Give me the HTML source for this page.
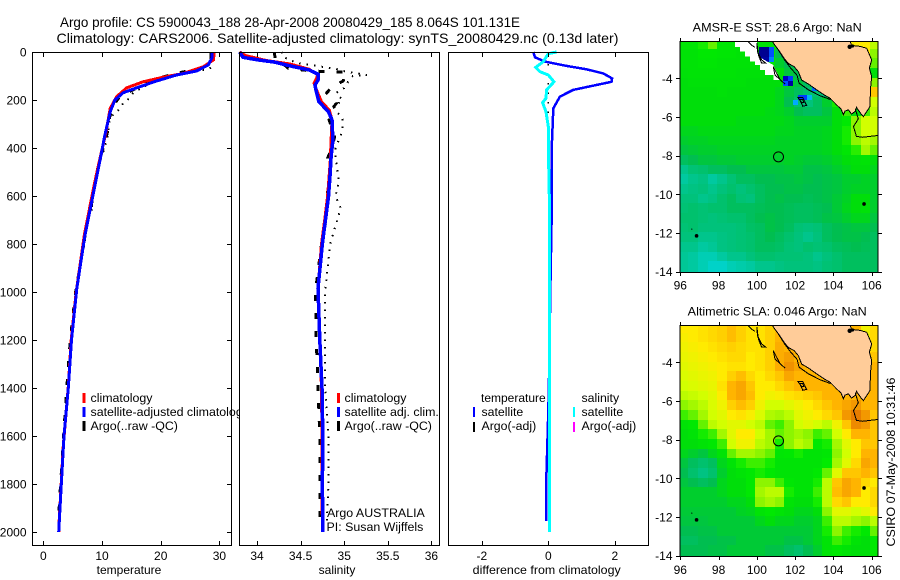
<!DOCTYPE html>
<html lang="en">
<head>
<meta charset="utf-8">
<title>Argo profile</title>
<style>
html,body{margin:0;padding:0;background:#fff;}
svg{display:block;font-family:"Liberation Sans",sans-serif;font-size:12px;fill:#000;}
text{fill:#000;}
</style>
</head>
<body>
<svg id="fig" width="900" height="580" viewBox="0 0 900 580" xmlns="http://www.w3.org/2000/svg">
  <defs>
    <clipPath id="clip-map1"><rect x="680" y="41" width="198" height="232"/></clipPath>
    <clipPath id="clip-map2"><rect x="680" y="325" width="198" height="232"/></clipPath>
    <clipPath id="clip-p1-legend"><rect x="32" y="52" width="207" height="493"/></clipPath>
  </defs>
  <rect x="0" y="0" width="900" height="580" fill="#fff"/>
  <text x="60" y="27" font-size="14" textLength="460" lengthAdjust="spacingAndGlyphs">Argo profile: CS 5900043_188 28-Apr-2008 20080429_185 8.064S 101.131E</text>
  <text x="56.5" y="43" font-size="14" textLength="562" lengthAdjust="spacingAndGlyphs">Climatology: CARS2006. Satellite-adjusted climatology: synTS_20080429.nc (0.13d later)</text>

  <g id="p1"></g>
  <g id="p1legend" clip-path="url(#clip-p1-legend)" font-size="12.4">
    <rect x="82.5" y="393" width="3" height="10" fill="#f00"/>
    <rect x="82.5" y="407" width="3" height="10" fill="#00f"/>
    <rect x="82.5" y="421" width="3" height="10" fill="#000"/>
    <text x="90.5" y="402">climatology</text>
    <text x="90.5" y="416">satellite-adjusted climatology</text>
    <text x="90.5" y="430">Argo(..raw -QC)</text>
  </g>

  <g id="p2"></g>
  <g font-size="12.4">
    <rect x="337" y="393" width="3" height="10" fill="#f00"/>
    <rect x="337" y="407" width="3" height="10" fill="#00f"/>
    <rect x="337" y="421" width="3" height="10" fill="#000"/>
    <text x="344.5" y="402">climatology</text>
    <text x="344.5" y="416">satellite adj. clim.</text>
    <text x="344.5" y="430">Argo(..raw -QC)</text>
    <text x="327" y="517">Argo AUSTRALIA</text>
    <text x="326.5" y="531">PI: Susan Wijffels</text>
  </g>

  <g id="p3"></g>
  <g>
    <text x="481" y="402">temperature</text>
    <rect x="473" y="407" width="2" height="10" fill="#00f"/>
    <text x="481.5" y="416" font-size="12.3">satellite</text>
    <rect x="473" y="422" width="2" height="10" fill="#000"/>
    <text x="481.5" y="430" font-size="12.3">Argo(-adj)</text>
    <text x="581.5" y="402" font-size="12.3">salinity</text>
    <rect x="573" y="407" width="2" height="10" fill="#0ff"/>
    <text x="581.5" y="416" font-size="12.3">satellite</text>
    <rect x="573" y="422" width="2" height="10" fill="#f0f"/>
    <text x="581.5" y="430" font-size="12.3">Argo(-adj)</text>
  </g>

  <g id="m1"></g>
  <g id="m2"></g>
  <text x="692.7" y="31.5" textLength="169" lengthAdjust="spacingAndGlyphs">AMSR-E SST: 28.6 Argo: NaN</text>
  <text x="687.7" y="315.5" textLength="179" lengthAdjust="spacingAndGlyphs">Altimetric SLA: 0.046 Argo: NaN</text>
  <text transform="translate(895,546.5) rotate(-90)" textLength="169" lengthAdjust="spacingAndGlyphs">CSIRO 07-May-2008 10:31:46</text>
</svg>

<script>
// ---------- profile data ----------
const depthTicks = [0,200,400,600,800,1000,1200,1400,1600,1800,2000];
const tempTicks = [0,10,20,30];
const salTicks = [34,34.5,35,35.5,36];
const salTickLabels = ['34','34.5','35','35.5','36'];
const diffTicks = [-2,0,2];
const lonTicks = [96,98,100,102,104,106];
const latTicks = [-4,-6,-8,-10,-12,-14];

const climTDepth = [0,6,33,61,89,105,124,149,186,235,332,471,550,760,1000,1200,1400,1640,1960,2000];
const climT = [29.1,29.1,29.0,27.3,23.9,20.4,17,14.2,12.5,11.4,10.7,9.4,8.7,7.0,5.6,4.75,4.25,3.4,2.7,2.65];
const satTDepth = [0,26,54,79,96,121,149,170,200,249,346,483,554,762,985,1200,1400,1600,1800,2000];
const satT = [28.7,28.7,28.1,26.1,22.7,19.3,15.9,13.6,12.2,11.4,10.5,9.4,8.8,7.1,5.7,4.8,4.26,3.53,3.07,2.62];
const argoTDepth = [5,30,57,70,80,90,105,125,145,170,190,214,242,255,290,325,358,408,470,540,600,660,700,800,1000,1200,1400,1600,1800,1960];
const argoQcT = [28.6,28.6,28.0,26.6,24.4,22.6,20.2,18.0,16.4,14.2,12.9,12.2,11.7,11.5,11.1,11.0,10.7,10.1,9.4,8.8,8.4,8.1,7.5,6.9,5.5,4.6,4.0,3.45,2.95,2.55];
const argoRawT = [28.8,28.7,28.8,28.3,26,24,21,19,17,15.3,14.8,13.6,12.8,12,11.3,11.1,10.9,10.3,9.5,8.9,8.5,8.2,7.6,7.0,5.5,4.7,4.1,3.5,3.0,2.6];

const climSDepth = [0,15,35,50,72,96,130,165,207,243,283,367,460,600,690,800,985,1200,1400,1600,1800,2000];
const climS = [33.8,33.87,34.1,34.38,34.6,34.7,34.655,34.69,34.74,34.83,34.86,34.85,34.84,34.81,34.78,34.74,34.7,34.72,34.74,34.745,34.745,34.75];
const satSDepth = [0,22,33,42,58,75,93,117,138,165,207,249,283,367,436,505,603,686,798,985,1200,1400,1600,1800,2000];
const satS = [33.8,33.84,34.01,34.2,34.38,34.6,34.7,34.7,34.665,34.68,34.71,34.82,34.86,34.87,34.85,34.84,34.82,34.79,34.75,34.7,34.72,34.745,34.755,34.75,34.755];
const argoQcSDepth = [0,35,50,68,78,82,85,100,120,150,170,213,245,275,354,400,442,470,520,603,660,686,800,1000,1200,1400,1600,1800,1960];
const argoQcS = [34.2,34.21,34.3,34.36,34.6,34.8,35.03,35.0,34.99,34.85,34.8,34.91,34.85,34.82,34.89,34.86,34.81,34.83,34.84,34.8,34.8,34.8,34.74,34.67,34.68,34.7,34.72,34.72,34.72];
const argoRawSDepth = [0,20,45,70,80,96,100,120,150,170,200,230,280,330,400,440,540,600,650,800,1000,1200,1400,1600,1800,1960];
const argoRawS = [34.28,34.3,34.45,34.9,35.0,35.26,35.1,35.05,35.0,34.91,34.98,34.88,34.98,34.98,34.9,34.9,34.94,34.9,34.96,34.84,34.78,34.78,34.78,34.82,34.82,34.8];

const diffTDepth = [0,22,40,58,72,89,110,124,137,158,186,235,311,408,700,1000,1300,1500,1780,1955];
const diffT = [-0.45,-0.4,-0.1,0.55,1.15,1.65,1.92,1.9,1.46,0.75,0.35,0.15,0.13,0.1,0.1,0.06,0.03,0.0,-0.06,-0.06];
const diffSDepth = [0,7,40,64,82,96,124,158,193,211,249,311,394,600,1000,1500,2000];
const diffS = [0.25,0,-0.15,-0.38,-0.25,0,0.17,-0.05,-0.07,-0.17,-0.07,0,0,0.03,0.03,0.03,0.03];
const diffArgoDepth = [50,100,200,300,400];
const diffArgo = [0,0,0,0,0];

// ---------- map data (colour level 0-100 per 0.5 degree cell, north to south) ----------
const sstGrid = [
[63,63,66,70,63,63,62,62,62,62,60,60,60,60,60,60,60,60,84,84,76],
[62,62,64,64,63,63,62,62,62,62,52,45,60,60,60,60,60,60,60,84,72],
[62,62,63,63,62,62,62,62,62,62,56,52,48,60,60,60,60,60,60,76,70],
[61,62,62,62,62,62,61,61,61,61,61,54,52,50,60,60,60,60,60,60,60],
[60,61,61,61,61,61,61,60,60,60,60,58,54,50,50,60,60,60,60,60,72],
[60,60,60,60,61,60,60,60,60,60,58,54,50,48,48,46,60,60,60,60,88],
[60,60,60,60,60,60,60,60,60,60,58,52,48,46,50,56,66,60,60,60,78],
[60,60,60,60,60,60,60,60,60,59,58,56,52,50,50,54,60,68,60,68,76],
[60,60,60,60,60,60,59,59,59,59,59,58,56,56,56,56,60,64,72,78,78],
[58,58,59,59,59,59,59,59,59,59,58,58,57,57,57,58,60,66,72,78,78],
[56,57,57,58,58,58,58,58,58,58,57,57,57,57,57,58,60,66,72,76,74],
[54,55,56,56,57,57,57,57,57,57,57,57,57,57,57,58,60,63,67,74,70],
[50,52,54,54,55,55,56,56,56,56,56,57,56,55,55,56,58,60,61,62,60],
[44,47,48,50,50,52,52,54,54,54,54,55,55,53,53,54,56,58,60,60,58],
[42,44,45,42,44,47,50,50,52,52,53,53,54,53,52,53,54,56,56,57,56],
[44,45,46,44,46,48,46,48,50,52,52,53,53,52,52,53,54,56,57,57,56],
[46,46,44,45,48,50,47,46,50,52,53,52,52,51,52,53,55,57,60,60,56],
[47,48,47,48,48,50,50,50,51,52,52,51,50,50,51,52,55,58,60,61,56],
[48,48,47,46,47,48,48,50,52,53,52,51,50,50,51,53,54,56,58,58,54],
[47,48,46,46,46,46,47,49,50,53,52,50,47,46,47,50,52,53,54,54,52],
[46,46,44,44,45,46,47,48,50,52,50,48,46,44,46,50,52,53,53,52,50],
[44,44,42,43,45,46,47,48,50,50,49,47,46,48,47,48,50,51,52,51,50],
[43,42,40,40,42,44,44,46,48,48,47,47,47,46,44,46,48,50,50,50,50],
[43,42,40,38,38,40,41,42,44,44,45,46,46,46,45,47,48,50,50,50,50]
];
const slaGrid = [
[84,84,85,86,87,89,87,85,85,87,90,90,90,90,90,90,90,90,90,82,86],
[83,84,85,86,87,89,87,85,85,87,90,90,90,90,90,90,90,90,90,82,86],
[82,83,84,85,86,87,86,85,85,87,91,90,90,90,90,90,90,90,90,90,86],
[81,82,83,84,85,86,86,84,85,87,91,93,90,90,90,90,90,90,90,90,88],
[80,81,82,83,84,85,85,84,85,87,91,95,92,90,90,90,90,90,90,90,90],
[79,80,81,82,84,87,89,86,84,86,88,92,90,90,90,90,90,90,90,90,90],
[78,79,80,81,85,90,92,88,84,84,86,88,90,90,90,90,90,90,90,90,90],
[76,77,78,80,84,90,92,89,84,82,83,85,86,87,88,90,90,90,90,90,90],
[72,74,76,79,82,87,89,87,82,78,78,80,82,84,86,88,90,92,94,90,90],
[68,70,74,78,80,84,85,83,79,75,74,76,80,82,84,86,88,94,98,94,88],
[62,64,70,76,78,80,80,78,76,70,68,72,78,80,78,76,82,88,96,94,88],
[60,62,66,68,74,80,84,84,78,74,70,72,74,72,68,70,78,84,90,90,88],
[60,60,62,64,68,78,82,82,76,74,66,72,76,74,64,66,74,80,84,88,88],
[58,56,54,58,62,70,74,74,72,70,63,64,66,62,62,63,72,78,84,90,90],
[54,50,48,50,58,62,66,68,68,66,62,62,62,62,62,65,74,80,86,92,90],
[52,48,45,48,56,60,62,64,66,64,62,62,62,62,64,70,80,88,88,90,88],
[54,52,50,52,58,60,60,64,72,72,68,63,62,62,66,76,88,92,90,86,84],
[56,56,56,56,58,60,60,64,74,76,76,66,62,62,68,76,89,92,90,84,86],
[56,56,56,56,56,58,58,60,72,74,72,62,60,60,66,76,86,88,84,84,86],
[55,55,55,55,55,55,57,58,62,64,62,60,58,58,60,72,80,80,78,80,84],
[54,54,54,55,55,55,55,55,58,60,58,58,56,56,58,68,76,76,74,72,76],
[52,52,53,53,55,55,55,55,55,55,55,55,55,55,58,66,72,68,66,64,70],
[50,50,52,52,53,53,55,55,55,55,55,53,53,55,58,62,68,66,62,60,64],
[52,52,52,53,53,55,55,55,55,53,53,50,48,52,56,62,64,62,60,60,64]
];
// fine 0.25 degree anomalies in the SST field: lon, lat, level
const sstFineLon = [100.125,100.375,100.125,100.375,100.125,100.375,100.625,100.625,100.625,101.375,101.625,101.375,101.625,102.125,102.375,102.625,101.875,102.875];
const sstFineLat = [-2.375,-2.375,-2.625,-2.625,-2.875,-2.875,-2.375,-2.625,-2.875,-3.875,-3.875,-4.125,-4.125,-4.875,-4.875,-4.875,-5.125,-4.375];
const sstFineLevel = [2,2,2,2,4,4,22,22,26,8,20,22,4,20,20,32,30,24];
// missing-data region of the SST map
const maskLon = [98.86,99.99,100.1,100.86,101.12,101.25,100.86,100.86,100.42,100.42,100.16,100.16,99.9,99.9,99.64,99.64,99.38,99.38,99.12,99.12,98.86];
const maskLat = [-2.07,-2.07,-2.88,-3.31,-3.83,-4.09,-4.09,-3.83,-3.83,-3.57,-3.57,-3.31,-3.31,-3.14,-3.14,-2.88,-2.88,-2.62,-2.62,-2.37,-2.37];
// coastline
const landLon = [100.8,100.95,101.2,101.45,101.64,101.95,102.17,102.34,102.7,103.13,103.5,103.82,104.17,104.4,104.52,104.6,104.78,104.95,105.15,105.2,105.45,105.56,105.82,105.9,105.95,106.0,105.88,106.0,105.74,105.4,104.95,104.87];
const landLat = [-2.07,-2.3,-2.63,-3.0,-3.23,-3.4,-3.66,-4.09,-4.3,-4.6,-4.85,-5.03,-5.38,-5.6,-5.89,-5.7,-5.63,-5.85,-5.7,-5.5,-5.85,-5.98,-5.6,-5.47,-4.43,-3.92,-3.47,-3.05,-2.45,-2.35,-2.3,-2.07];
const shelfLon = [101.1,101.45,101.75,102.1,102.2,102.7,103.3,103.85];
const shelfLat = [-2.5,-3.05,-3.45,-3.85,-4.25,-4.6,-4.9,-5.1];
const javaLon = [105.15,105.3,105.05,105.2,105.5,106.4];
const javaLat = [-5.6,-6.1,-6.5,-7.0,-7.05,-6.95];
const siberutLon = [99.5,99.75,99.9];
const siberutLat = [-2.07,-2.3,-2.4];
const siporaLon = [100,100.03,100.25,100.48,100.25,100.08,100];
const siporaLat = [-2.17,-2.62,-3.05,-3.22,-3.22,-2.8,-2.17];
const pagaiLon = [100.86,100.95,101.47,101.2,100.86];
const pagaiLat = [-3.4,-3.83,-4.3,-4.05,-3.4];
const engganoLon = [102.15,102.4,102.6,102.4,102.3,102.15];
const engganoLat = [-5.0,-5.0,-5.4,-5.45,-5.2,-5.0];
const inner1Lon = [102.25,102.4,102.45,102.3,102.25];
const inner1Lat = [-5.1,-5.1,-5.25,-5.25,-5.1];
const islandLon = [105.6,96.85,96.6,104.85,105.0];
const islandLat = [-10.5,-12.15,-11.8,-2.37,-2.33];
const islandSize = [1.8,1.8,0.6,2.2,1.6];
const floatLon = [101.131];
const floatLat = [-8.064];

// ---------- scales ----------
const yD = d => 52 + 0.24 * d;
const xTemp = v => 43.3 + 5.87 * v;
const xSal = v => 257 + 87.2 * (v - 34);
const xDiff = v => 548.3 + 33.25 * v;
const mapX = lon => 680.3 + (lon - 96) * 19.14;
const map1Y = lat => 78.3 + (-4 - lat) * 19.33;
const map2Y = lat => 362.3 + (-4 - lat) * 19.33;

const NS = 'http://www.w3.org/2000/svg';
function mk(parent, tag, attrs, txt) {
  const e = document.createElementNS(NS, tag);
  for (const k in attrs) e.setAttribute(k, attrs[k]);
  if (txt !== undefined) e.textContent = txt;
  parent.appendChild(e);
  return e;
}
function curve(parent, xs, ds, sx, sy, color, width, dash) {
  const pts = xs.map((v, i) => sx(v).toFixed(1) + ',' + sy(ds[i]).toFixed(1)).join(' ');
  const a = {points: pts, fill: 'none', stroke: color, 'stroke-width': width, 'shape-rendering': 'crispEdges'};
  if (dash) a['stroke-dasharray'] = dash;
  return mk(parent, 'polyline', a);
}
function panelFrame(g, x, y, w, h) {
  return mk(g, 'rect', {x: x + 0.5, y: y + 0.5, width: w, height: h, fill: 'none', stroke: '#000', 'stroke-width': 1, 'shape-rendering': 'crispEdges'});
}
function vtick(g, x, y1, y2) {
  return mk(g, 'line', {x1: Math.round(x) + 0.5, x2: Math.round(x) + 0.5, y1: y1, y2: y2, stroke: '#000', 'stroke-width': 1, 'shape-rendering': 'crispEdges'});
}
function htick(g, y, x1, x2) {
  return mk(g, 'line', {y1: Math.round(y) + 0.5, y2: Math.round(y) + 0.5, x1: x1, x2: x2, stroke: '#000', 'stroke-width': 1, 'shape-rendering': 'crispEdges'});
}

let el;
const p1 = document.getElementById('p1');
const p2 = document.getElementById('p2');
const p3 = document.getElementById('p3');

// ---------- temperature panel ----------
el = curve(p1, argoRawT, argoTDepth, xTemp, yD, '#000', 2, '1.5 6');


el = curve(p1, argoQcT, argoTDepth, xTemp, yD, '#000', 3, '6 12');


el = curve(p1, climT, climTDepth, xTemp, yD, '#f00', 3);


el = curve(p1, satT, satTDepth, xTemp, yD, '#00f', 3);


el = panelFrame(p1, 32, 52, 199, 493);


depthTicks.forEach(d => {
  el = htick(p1, yD(d), 32, 37);
  
  
  el = htick(p1, yD(d), 227, 232);
  
  
  el = mk(p1, 'text', {x: 26.5, y: yD(d) + 4.5, 'text-anchor': 'end'}, String(d));
  
  
});
tempTicks.forEach(v => {
  el = vtick(p1, xTemp(v), 52, 57);
  
  
  el = vtick(p1, xTemp(v), 541, 546);
  
  
  el = mk(p1, 'text', {x: xTemp(v), y: 560, 'text-anchor': 'middle'}, String(v));
  
  
});
el = mk(p1, 'text', {x: 129, y: 574, 'text-anchor': 'middle'}, 'temperature');



// ---------- salinity panel ----------
el = mk(p2, 'rect', {x: 239, y: 52, width: 201, height: 494, fill: '#fff'});


el = curve(p2, argoRawS, argoRawSDepth, xSal, yD, '#000', 2, '1.5 6');


el = curve(p2, argoQcS, argoQcSDepth, xSal, yD, '#000', 3, '6 12');


el = curve(p2, climS, climSDepth, xSal, yD, '#f00', 3);


el = curve(p2, satS, satSDepth, xSal, yD, '#00f', 3.5);


el = panelFrame(p2, 239, 52, 200, 493);


salTicks.forEach((v, i) => {
  el = vtick(p2, xSal(v), 52, 57);
  
  
  el = vtick(p2, xSal(v), 541, 546);
  
  
  el = mk(p2, 'text', {x: xSal(v), y: 560, 'text-anchor': 'middle'}, salTickLabels[i]);
  
  
});
el = mk(p2, 'text', {x: 337, y: 574, 'text-anchor': 'middle'}, 'salinity');



// ---------- difference panel ----------
el = curve(p3, diffArgo, diffArgoDepth, xDiff, yD, '#000', 1.5, '1.5 8');


el = curve(p3, diffT, diffTDepth, xDiff, yD, '#00f', 2.5);


el = curve(p3, diffS, diffSDepth, xDiff, yD, '#0ff', 3);


el = panelFrame(p3, 448, 52, 200, 493);


diffTicks.forEach(v => {
  el = vtick(p3, xDiff(v), 52, 57);
  
  
  el = vtick(p3, xDiff(v), 541, 546);
  
  
  el = mk(p3, 'text', {x: xDiff(v), y: 560, 'text-anchor': 'middle'}, String(v));
  
  
});
el = mk(p3, 'text', {x: 546.7, y: 574, 'text-anchor': 'middle', textLength: 148, lengthAdjust: 'spacingAndGlyphs'}, 'difference from climatology');



// ---------- colour scale ----------
const stopLevel = [0,15,30,38,45,52,60,65,72,78,84,90,100];
const stopR = [0,0,0,0,0,0,0,0,140,210,255,255,225];
const stopG = [0,0,170,210,195,190,222,235,245,255,235,180,110];
const stopB = [128,255,255,200,130,80,10,0,0,0,0,0,0];
function levelColor(v) {
  let i = 0;
  while (i < stopLevel.length - 2 && v > stopLevel[i + 1]) i++;
  const t = Math.max(0, Math.min(1, (v - stopLevel[i]) / (stopLevel[i + 1] - stopLevel[i])));
  const c = a => Math.round(a[i] + (a[i + 1] - a[i]) * t);
  return 'rgb(' + c(stopR) + ',' + c(stopG) + ',' + c(stopB) + ')';
}
const polyPts = (lons, lats, fy) => lons.map((l, i) => mapX(l).toFixed(1) + ',' + fy(lats[i]).toFixed(1)).join(' ');

function drawMap(g, grid, fy, clipId) {
  const inner = mk(g, 'g', {'clip-path': 'url(#' + clipId + ')'});
  grid.forEach((row, r) => row.forEach((v, c) => {
    const lonL = 95.95 + c * 0.5, latT = -2 - r * 0.5;
    el = mk(inner, 'rect', {
      x: Math.floor(mapX(lonL)), y: Math.floor(fy(latT)),
      width: Math.ceil(mapX(lonL + 0.5)) - Math.floor(mapX(lonL)),
      height: Math.ceil(fy(latT - 0.5)) - Math.floor(fy(latT)),
      fill: levelColor(v), 'shape-rendering': 'crispEdges'
    });
    
    
  }));
  return inner;
}
function drawCoast(inner, fy) {
  const stroke = {stroke: '#000', 'stroke-width': 1, 'shape-rendering': 'crispEdges'};
  el = mk(inner, 'polygon', Object.assign({points: polyPts(landLon, landLat, fy), fill: '#ffcc99'}, stroke));
  
  
  el = mk(inner, 'polyline', Object.assign({points: polyPts(shelfLon, shelfLat, fy), fill: 'none'}, stroke));
  
  
  el = mk(inner, 'polyline', Object.assign({points: polyPts(javaLon, javaLat, fy), fill: 'none'}, stroke));
  
  
  el = mk(inner, 'polyline', Object.assign({points: polyPts(siberutLon, siberutLat, fy), fill: 'none'}, stroke));
  
  
  el = mk(inner, 'polygon', Object.assign({points: polyPts(siporaLon, siporaLat, fy), fill: 'none'}, stroke));
  
  
  el = mk(inner, 'polygon', Object.assign({points: polyPts(pagaiLon, pagaiLat, fy), fill: 'none'}, stroke));
  
  
  el = mk(inner, 'polygon', Object.assign({points: polyPts(engganoLon, engganoLat, fy), fill: 'none'}, stroke));
  
  
  el = mk(inner, 'polygon', Object.assign({points: polyPts(inner1Lon, inner1Lat, fy), fill: 'none'}, stroke));
  
  
  islandLon.forEach((l, i) => {
    el = mk(inner, 'circle', {cx: mapX(l), cy: fy(islandLat[i]), r: islandSize[i], fill: '#000'});
    
    
  });
  floatLon.forEach((l, i) => {
    el = mk(inner, 'circle', {cx: mapX(l), cy: fy(floatLat[i]), r: 5, fill: 'none', stroke: '#000', 'stroke-width': 1});
    
    
  });
}
function drawMapAxes(g, fy, top, bottom, labelY) {
  el = panelFrame(g, 679.5, top, 198, bottom - top);
  
  
  lonTicks.forEach(v => {
    el = vtick(g, mapX(v), top - 3, top);
    
    
    el = vtick(g, mapX(v), bottom + 1, bottom + 4);
    
    
    el = mk(g, 'text', {x: mapX(v), y: labelY, 'text-anchor': 'middle'}, String(v));
    
    
  });
  latTicks.forEach(v => {
    el = htick(g, fy(v), 676, 680);
    
    
    el = htick(g, fy(v), 878, 882);
    
    
    el = mk(g, 'text', {x: 672.5, y: fy(v) + 4.5, 'text-anchor': 'end'}, String(v));
    
    
  });
}

// ---------- SST map ----------
const m1 = document.getElementById('m1');
const m1Inner = drawMap(m1, sstGrid, map1Y, 'clip-map1');
sstFineLon.forEach((l, i) => {
  el = mk(m1Inner, 'rect', {x: Math.round(mapX(l)), y: Math.round(map1Y(sstFineLat[i])), width: 5, height: 5, fill: levelColor(sstFineLevel[i]), 'shape-rendering': 'crispEdges'});
  
  
});
el = mk(m1Inner, 'polygon', {points: polyPts(maskLon, maskLat, map1Y), fill: '#fff', 'shape-rendering': 'crispEdges'});


drawCoast(m1Inner, map1Y);
drawMapAxes(m1, map1Y, 41, 272, 289.5);

// ---------- SLA map ----------
const m2 = document.getElementById('m2');
const m2Inner = drawMap(m2, slaGrid, map2Y, 'clip-map2');
drawCoast(m2Inner, map2Y);
drawMapAxes(m2, map2Y, 325, 556, 574);
</script>
</body>
</html>
